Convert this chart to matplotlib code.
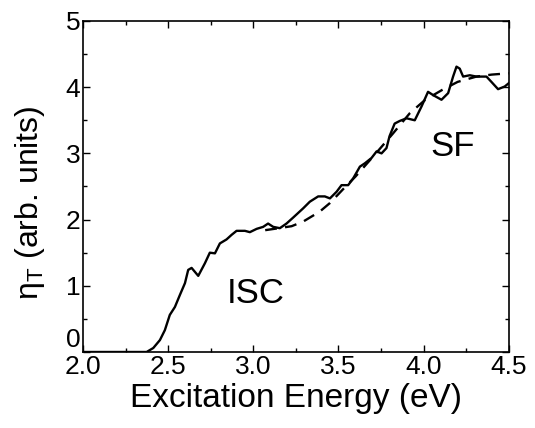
import matplotlib
matplotlib.use("Agg")
import matplotlib.pyplot as plt
from matplotlib.ticker import MultipleLocator, FormatStrFormatter

plt.rcParams['font.family'] = ['Liberation Sans', 'DejaVu Sans']
plt.rcParams['mathtext.fontset'] = 'custom'
plt.rcParams['mathtext.rm'] = 'Liberation Sans'
plt.rcParams['mathtext.default'] = 'regular'

# espectro medido (linea continua)
energia = [2.00, 2.20, 2.374, 2.413, 2.452, 2.481, 2.51, 2.54, 2.569, 2.599, 2.618,
           2.638, 2.677, 2.716, 2.745, 2.775, 2.804, 2.843, 2.873, 2.902, 2.951,
           2.98, 3.02, 3.058, 3.087, 3.117, 3.156, 3.195, 3.234, 3.293, 3.332,
           3.381, 3.42, 3.45, 3.489, 3.518, 3.557, 3.586, 3.626, 3.655, 3.694,
           3.724, 3.753, 3.782, 3.80, 3.83, 3.86, 3.90, 3.948, 3.988, 4.026,
           4.056, 4.105, 4.144, 4.173, 4.193, 4.212, 4.232, 4.271, 4.31, 4.369,
           4.398, 4.437, 4.476, 4.50]
eta = [0.00, 0.00, 0.00, 0.06, 0.18, 0.33, 0.56, 0.68, 0.86, 1.04, 1.24,
       1.27, 1.15, 1.34, 1.50, 1.49, 1.64, 1.70, 1.77, 1.83, 1.83,
       1.81, 1.86, 1.89, 1.94, 1.89, 1.87, 1.94, 2.03, 2.17, 2.27,
       2.35, 2.35, 2.32, 2.42, 2.52, 2.52, 2.62, 2.80, 2.85, 2.93,
       3.03, 3.00, 3.08, 3.26, 3.45, 3.49, 3.53, 3.50, 3.71, 3.93,
       3.88, 3.81, 3.91, 4.16, 4.31, 4.28, 4.16, 4.18, 4.16, 4.16,
       4.08, 3.97, 4.01, 4.06]

# ajuste (linea discontinua)
energia_aj = [3.07, 3.15, 3.225, 3.293, 3.39, 3.45, 3.55, 3.60, 3.72, 3.82, 3.92,
              4.01, 4.11, 4.20, 4.31, 4.40, 4.50]
eta_aj = [1.84, 1.87, 1.90, 1.97, 2.12, 2.25, 2.52, 2.65, 3.00, 3.30, 3.61,
          3.81, 3.96, 4.08, 4.16, 4.19, 4.21]

fig = plt.figure(figsize=(5.35, 4.28), dpi=100)
ax = fig.add_axes([0.155, 0.1776, 0.796, 0.7734])

ax.plot(energia, eta, color="black", lw=1.7, solid_joinstyle="round")
ax.plot(energia_aj, eta_aj, color="black", lw=1.7, dashes=(5, 3.5))

ax.text(3.015, 0.89, "ISC", fontsize=25, ha="center", va="center")
ax.text(4.17, 3.10, "SF", fontsize=25, ha="center", va="center")

ax.set_xlim(2.0, 4.5)
ax.set_ylim(0, 5)
ax.xaxis.set_major_locator(MultipleLocator(0.5))
ax.xaxis.set_minor_locator(MultipleLocator(0.25))
ax.yaxis.set_major_locator(MultipleLocator(1))
ax.yaxis.set_minor_locator(MultipleLocator(0.5))
ax.xaxis.set_major_formatter(FormatStrFormatter('%.1f'))
ax.tick_params(which="both", direction="in", top=True, right=True, labelsize=19)
ax.tick_params(which="major", length=5, width=1)
ax.tick_params(which="minor", length=3, width=1)
ax.tick_params(axis="y", pad=2)
ax.tick_params(axis="x", pad=2)
for s in ax.spines.values():
    s.set_linewidth(1.2)

ax.set_xlabel("Excitation Energy (eV)", fontsize=24, labelpad=3)
ax.set_ylabel(r"$\eta_{T}$ (arb. units)", fontsize=23)
ax.yaxis.set_label_coords(-0.085, 0.45)

# el "0" del eje y un poco mas arriba para que no pise al "2.0"
fig.canvas.draw()
for lab in ax.get_yticklabels():
    if lab.get_text() == "0":
        lab.set_va("bottom")

fig.savefig("out.png", dpi=100)
